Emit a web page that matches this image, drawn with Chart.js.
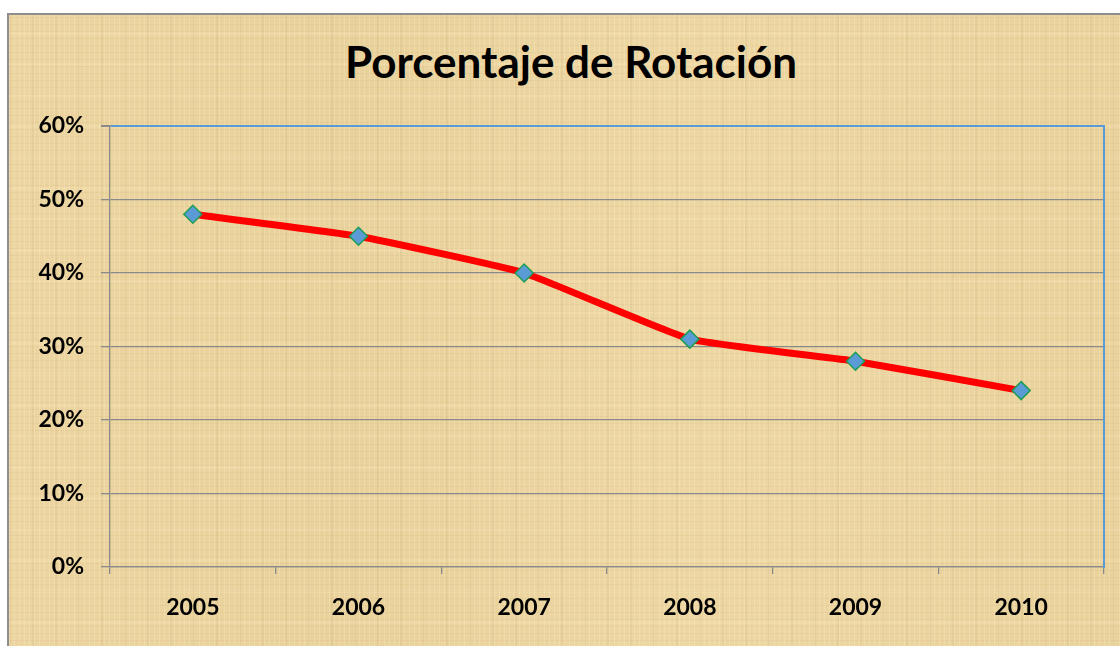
<!DOCTYPE html>
<html>
<head>
<meta charset="utf-8">
<script src="https://cdn.jsdelivr.net/npm/chart.js@4"></script>
<style>
  html, body { margin: 0; padding: 0; background: #ffffff; width: 1120px; height: 646px; overflow: hidden; }
  #frame {
    position: absolute; left: 7px; top: 13px; width: 1120px; height: 640px;
    border-left: 2px solid #8e8e8e; border-top: 2px solid #8e8e8e;
    background-color: #ebd49f;
    background-image:
      repeating-linear-gradient(90deg, rgba(255,245,215,0.22) 0px, rgba(255,245,215,0.22) 1px, transparent 1px, transparent 5px),
      repeating-linear-gradient(0deg, rgba(170,140,90,0.09) 0px, rgba(170,140,90,0.09) 1px, transparent 1px, transparent 7px),
      repeating-linear-gradient(90deg, rgba(150,120,70,0.07) 0px, rgba(150,120,70,0.07) 2px, transparent 2px, transparent 23px),
      repeating-linear-gradient(0deg, rgba(255,240,200,0.18) 0px, rgba(255,240,200,0.18) 3px, transparent 3px, transparent 31px),
      linear-gradient(90deg, rgba(240,215,165,0.3), rgba(228,202,145,0.25) 30%, rgba(242,220,170,0.3) 60%, rgba(230,204,148,0.25));
  }
  #wrap { position: absolute; left: 0; top: 0; width: 1120px; height: 646px; }
  #title {
    position: absolute; left: 0; top: 39px; width: 1142px; text-align: center;
    font-family: Lato, "Open Sans", sans-serif; font-weight: bold; font-size: 44px; line-height: 44px;
    color: #000000; white-space: nowrap;
  }
</style>
</head>
<body>
<div id="frame"></div>
<div id="title"></div>
<div id="wrap"><canvas id="c" width="1120" height="646"></canvas></div>
<script>
const categories = ['2005', '2006', '2007', '2008', '2009', '2010'];
const rotationValues = [48, 45, 40, 31, 28, 24];
const yTickValues = [0, 10, 20, 30, 40, 50, 60];
const chartTitle = 'Porcentaje de Rotación';

document.getElementById('title').textContent = chartTitle;

const FONT = 'Lato, "Open Sans", sans-serif';
const GRID_GRAY = '#8a8a8a';
const BLUE = '#5b9bd5';

new Chart(document.getElementById('c'), {
  type: 'line',
  data: {
    labels: categories,
    datasets: [{
      data: rotationValues,
      borderColor: '#ff0000',
      borderWidth: 7,
      tension: 0.12,
      pointStyle: 'rectRot',
      pointRadius: 9,
      pointHoverRadius: 9,
      pointBackgroundColor: '#5b9bd5',
      pointBorderColor: '#1e9e55',
      pointBorderWidth: 1.5
    }]
  },
  options: {
    responsive: false,
    animation: false,
    devicePixelRatio: 1,
    layout: { padding: { top: 126, left: 0, right: 0, bottom: 0 } },
    plugins: {
      legend: { display: false },
      tooltip: { enabled: false },
      title: { display: false }
    },
    scales: {
      x: {
        type: 'category',
        offset: true,
        grid: {
          display: true,
          offset: true,
          drawOnChartArea: false,
          drawTicks: true,
          tickLength: 7,
          tickColor: GRID_GRAY,
          lineWidth: 1.3
        },
        border: { display: true, color: GRID_GRAY, width: 1.3 },
        ticks: {
          color: '#000000',
          font: { family: FONT, size: 23, weight: 'bold' },
          padding: 20,
          maxRotation: 0
        },
        afterFit: s => { s.height = 79; }
      },
      y: {
        min: 0,
        max: 60,
        afterBuildTicks: s => { s.ticks = yTickValues.map(v => ({ value: v })); },
        grid: {
          color: c => (c.tick && c.tick.value === 60) ? BLUE : GRID_GRAY,
          lineWidth: c => (c.tick && c.tick.value === 60) ? 2 : 1.3,
          tickColor: GRID_GRAY,
          tickLength: 9,
          drawTicks: true
        },
        border: { display: true, color: GRID_GRAY, width: 1.3 },
        ticks: {
          color: '#000000',
          font: { family: FONT, size: 23, weight: 'bold' },
          padding: 17,
          callback: v => v + '%'
        },
        afterFit: s => { s.width = 110; }
      },
      yRight: {
        position: 'right',
        min: 0,
        max: 60,
        grid: { display: false, drawTicks: false },
        border: { display: true, color: BLUE, width: 2 },
        ticks: { display: false },
        afterFit: s => { s.width = 16; }
      }
    }
  }
});
</script>
</body>
</html>
